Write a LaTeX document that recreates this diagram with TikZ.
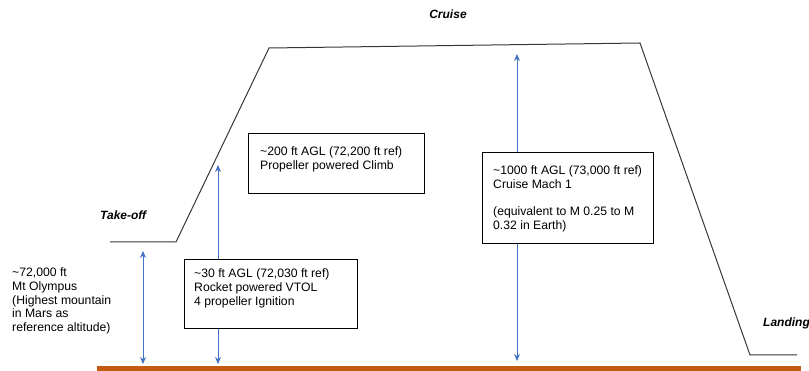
\documentclass[tikz,border=0pt]{standalone}
\usepackage{fontspec}
\setmainfont{Liberation Sans}
\usetikzlibrary{arrows.meta}
\definecolor{groundc}{RGB}{197,90,17}
\definecolor{arrowc}{RGB}{68,114,196}
\definecolor{profc}{RGB}{55,55,55}
\begin{document}
\begin{tikzpicture}[x=1pt,y=-1pt,
  txt/.style={font=\fontsize{12.2}{13.8}\selectfont, align=left, inner sep=0pt, anchor=north west},
  phase/.style={font=\fontsize{12}{13.8}\selectfont\bfseries\itshape, inner sep=0pt},
  infobox/.style={draw=black, line width=0.8pt, fill=white, inner sep=0pt, anchor=north west},
  profile/.style={draw=profc, line width=1pt, line join=miter},
  alt/.style={draw=arrowc, line width=1pt, {Stealth[length=7pt,width=6pt]}-{Stealth[length=7pt,width=6pt]}}]
\useasboundingbox (0,0) rectangle (809,371);
% ground
\coordinate (g1) at (97,366);
\coordinate (g2) at (801,371);
\fill[groundc] (g1) rectangle (g2);
% flight profile
\coordinate (p0) at (110,242);
\coordinate (p1) at (176,242);
\coordinate (p2) at (269,48);
\coordinate (p3) at (640,43);
\coordinate (p4) at (750,355);
\coordinate (p5) at (797,355);
\draw[profile] (p0) -- (p1) -- (p2) -- (p3) -- (p4) -- (p5);
% altitude arrows
\coordinate (a1t) at (143,251);
\coordinate (a1b) at (143,364);
\coordinate (a2t) at (218,165);
\coordinate (a2b) at (218,364);
\coordinate (a3t) at (517,54);
\coordinate (a3b) at (517,361);
\draw[alt] (a1t) -- (a1b);
\draw[alt] (a2t) -- (a2b);
\draw[alt] (a3t) -- (a3b);
% boxes
\node[infobox, minimum width=176pt, minimum height=60pt] (boxA) at (248,133) {};
\node[infobox, minimum width=173pt, minimum height=69pt] (boxB) at (184,259) {};
\node[infobox, minimum width=171pt, minimum height=91pt] (boxC) at (482,152) {};
\node[txt] (tA) at (260,146.5) {\textasciitilde200 ft AGL (72,200 ft ref)\\Propeller powered Climb};
\node[txt] (tB) at (194,268.5) {\textasciitilde30 ft AGL (72,030 ft ref)\\Rocket powered VTOL\\4 propeller Ignition};
\node[txt] (tC) at (493,165.5) {\textasciitilde1000 ft AGL (73,000 ft ref)\\Cruise Mach 1\\[13.5pt](equivalent to M 0.25 to M\\0.32 in Earth)};
\node[txt] (tL) at (12,267.5) {\textasciitilde72,000 ft\\Mt Olympus\\(Highest mountain\\in Mars as\\reference altitude)};
% phase labels
\node[phase] (cruise) at (448,14) {Cruise};
\node[phase, anchor=west] (takeoff) at (100,215) {Take-off};
\node[phase, anchor=west] (landing) at (763,323) {Landing};
\end{tikzpicture}
\end{document}
